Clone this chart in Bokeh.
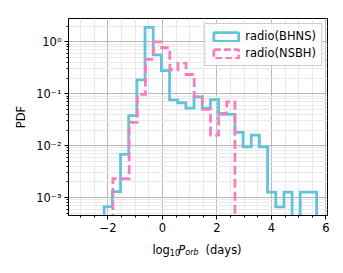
import numpy as np
from bokeh.plotting import figure
from bokeh.layouts import column
from bokeh.models import (Range1d, FixedTicker, CustomJSTickFormatter, Legend,
                          LegendItem, Label)
from bokeh.embed import file_html
from bokeh.resources import INLINE

# ---------------- data ----------------
series_names = ["radio(BHNS)", "radio(NSBH)"]

bhns_edges = np.linspace(-2.14, 5.66, 27)
bhns_pdf = [6.7e-4, 1.3e-3, 6.8e-3, 0.038, 0.185, 1.9, 0.56, 0.28, 0.076,
            0.067, 0.053, 0.087, 0.053, 0.077, 0.040, 0.040, 0.018, 0.0095,
            0.016, 0.0095, 1.27e-3, 6.6e-4, 1.27e-3, 0.0, 1.27e-3, 1.27e-3]

nsbh_edges = np.linspace(-1.82, 2.66, 16)
nsbh_pdf = [2.3e-3, 2.3e-3, 0.028, 0.097, 0.46, 1.0, 0.77, 0.29, 0.39,
            0.235, 0.088, 0.05, 0.016, 0.042, 0.07]

x_ticks = [-2, 0, 2, 4, 6]
x_tick_labels = ["\u22122", "0", "2", "4", "6"]
y_ticks = [1e-3, 1e-2, 1e-1, 1.0]
y_tick_labels = ["10\u207b\u00b3", "10\u207b\u00b2", "10\u207b\u00b9", "10\u2070"]

BLUE = "#62c4da"
PINK = "#f47fbe"
FONT = "DejaVu Sans"
FS = "11.5px"
FLOOR = 1e-7


def step_xy(edges, vals):
    xs = [edges[0]]
    ys = [FLOOR]
    for i, v in enumerate(vals):
        v = v if v > 0 else FLOOR
        xs += [edges[i], edges[i + 1]]
        ys += [v, v]
    xs.append(edges[-1])
    ys.append(FLOOR)
    return xs, ys


xr = Range1d(-3.45, 6.06)
p = figure(frame_width=259, frame_height=197, y_axis_type="log",
           x_range=xr, y_range=Range1d(4.5e-4, 2.82),
           output_backend="svg", toolbar_location=None,
           min_border_left=68, min_border_right=8, min_border_top=18,
           min_border_bottom=24)
p.background_fill_color = "white"
p.border_fill_color = "white"
p.outline_line_color = "black"
p.outline_line_alpha = 1.0
p.outline_line_width = 1

# ticks
p.xaxis.ticker = FixedTicker(ticks=x_ticks,
                             minor_ticks=list(np.arange(-3.5, 6.01, 0.5)))
p.yaxis.ticker = FixedTicker(ticks=y_ticks,
                             minor_ticks=[k * 10.0 ** e for e in range(-4, 1)
                                          for k in range(2, 10)])
p.xaxis.formatter = CustomJSTickFormatter(
    args=dict(tvals=x_ticks, tlabels=x_tick_labels),
    code="const i = tvals.findIndex(t => Math.abs(t - tick) < 1e-6); return i >= 0 ? tlabels[i] : '';")
p.yaxis.formatter = CustomJSTickFormatter(
    args=dict(tvals=y_ticks, tlabels=y_tick_labels),
    code="const i = tvals.findIndex(t => Math.abs(Math.log10(t) - Math.log10(tick)) < 1e-6); return i >= 0 ? tlabels[i] : '';")

for ax in (p.xaxis, p.yaxis):
    ax.major_tick_out = 4
    ax.major_tick_in = 0
    ax.minor_tick_out = 2
    ax.minor_tick_in = 0
    ax.axis_line_color = "black"
    ax.major_tick_line_color = "black"
    ax.minor_tick_line_color = "black"
    ax.major_label_text_font = FONT
    ax.major_label_text_font_size = FS
    ax.major_label_text_color = "black"
    ax.major_label_standoff = 3

p.yaxis.axis_label = "PDF"
p.yaxis.axis_label_text_font = FONT
p.yaxis.axis_label_text_font_size = FS
p.yaxis.axis_label_text_font_style = "normal"
p.yaxis.axis_label_text_color = "black"
p.yaxis.axis_label_standoff = 5

# grids
for g in (p.xgrid, p.ygrid):
    g.grid_line_color = "#b8b8b8"
    g.grid_line_width = 1
    g.minor_grid_line_color = "#e9e9e9"
    g.minor_grid_line_width = 1

# histograms (step outlines)
bx, by = step_xy(bhns_edges, bhns_pdf)
nx, ny = step_xy(nsbh_edges, nsbh_pdf)
p.line(bx, by, line_color=BLUE, line_width=2.8, line_join="miter")
p.line(nx, ny, line_color=PINK, line_width=2.8, line_dash="9 4",
       line_join="miter")

# legend proxies (rectangle outlines like matplotlib step patches)
nan = [float("nan")]
g1 = p.quad(left=nan, right=nan, top=nan, bottom=nan, fill_alpha=0,
            line_color=BLUE, line_width=2.8)
g2 = p.quad(left=nan, right=nan, top=nan, bottom=nan, fill_alpha=0,
            line_color=PINK, line_width=2.8, line_dash="7 3")
legend = Legend(items=[LegendItem(label=series_names[0], renderers=[g1], index=0),
                       LegendItem(label=series_names[1], renderers=[g2], index=0)],
                location="top_right")
legend.label_text_font = FONT
legend.label_text_font_size = FS
legend.label_text_color = "black"
legend.glyph_width = 31
legend.glyph_height = 11
legend.label_height = 11
legend.label_standoff = 4
legend.padding = 5
legend.spacing = 3
legend.margin = 5
legend.border_line_color = "#cccccc"
legend.border_line_alpha = 1.0
legend.border_line_width = 1
legend.background_fill_alpha = 0.85
p.add_layout(legend)

# strip below the plot carrying the x axis label: log10 P_orb (days)
q = figure(frame_width=259, frame_height=24, x_range=xr,
           y_range=Range1d(0, 1), output_backend="svg", toolbar_location=None,
           x_axis_location=None, y_axis_location=None,
           min_border_left=68, min_border_right=8, min_border_top=0,
           min_border_bottom=0)
q.grid.visible = False
q.outline_line_color = None
q.background_fill_color = "white"
q.border_fill_color = "white"

parts = [
    ("log", -0.37, 14, FS, "normal"),
    ("10", 0.27, 11, "8px", "normal"),
    ("P", 0.58, 14, FS, "italic"),
    ("orb", 0.84, 11, "8px", "italic"),
    ("(days)", 1.58, 14, FS, "normal"),
]
for txt, xx, yy, fs, st in parts:
    q.add_layout(Label(x=xx, y=yy, x_units="data", y_units="screen",
                       text=txt, text_font=FONT, text_font_size=fs,
                       text_font_style=st, text_color="black",
                       text_baseline="alphabetic", text_align="left"))

layout = column(p, q, spacing=0)
open("out.html", "w").write(file_html(layout, INLINE))
